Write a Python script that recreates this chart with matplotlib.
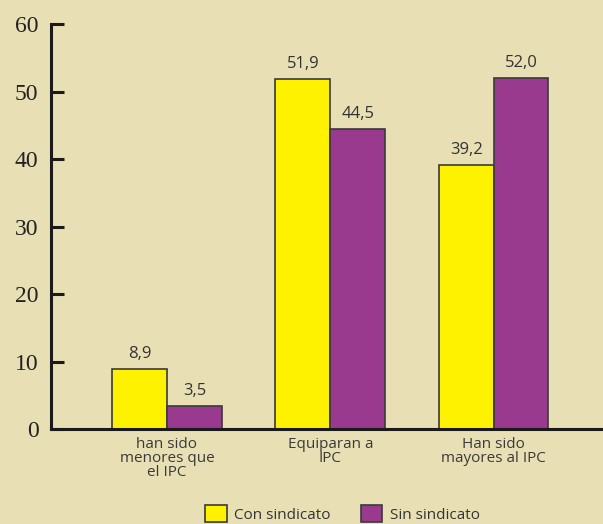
import numpy as np
import matplotlib.pyplot as plt

categories = ["han sido\nmenores que\nel IPC", "Equiparan a\nIPC", "Han sido\nmayores al IPC"]
con_sindicato = [8.9, 51.9, 39.2]
sin_sindicato = [3.5, 44.5, 52.0]
series_names = ["Con sindicato", "Sin sindicato"]

bg = "#e9dfb4"
yellow = "#fff200"
purple = "#993a8f"
edge = "#3a3a3a"
sans = ["Open Sans", "DejaVu Sans"]

fig = plt.figure(figsize=(6.03, 5.24), dpi=100, facecolor=bg)
ax = fig.add_axes([0.0846, 0.181, 0.9154, 0.773])
ax.set_facecolor(bg)

x = np.arange(len(categories))
w = 0.336
b1 = ax.bar(x - w / 2, con_sindicato, w, color=yellow, edgecolor=edge, linewidth=1.2, label=series_names[0])
b2 = ax.bar(x + w / 2, sin_sindicato, w, color=purple, edgecolor=edge, linewidth=1.2, label=series_names[1])

for bars, vals in ((b1, con_sindicato), (b2, sin_sindicato)):
    for rect, v in zip(bars, vals):
        ax.annotate(f"{v:.1f}".replace(".", ","),
                    (rect.get_x() + rect.get_width() / 2, v),
                    xytext=(0, 5), textcoords="offset points",
                    ha="center", va="bottom", fontsize=12, color="#333333", family=sans)

ax.set_xlim(-0.71, 2.67)
ax.set_ylim(0, 60)
ax.set_yticks(range(0, 61, 10))
ax.set_yticklabels([str(v) for v in range(0, 61, 10)], family="Liberation Serif", fontsize=17, color="#222222")
ax.tick_params(axis="y", direction="in", length=9, width=2.2, pad=9, color="#1a1a1a")
ax.set_xticks(x)
ax.set_xticklabels(categories, family=sans, fontsize=11, color="#3a3a3a", linespacing=0.9)
ax.tick_params(axis="x", length=0, pad=6)

for s in ("top", "right"):
    ax.spines[s].set_visible(False)
ax.spines["left"].set_linewidth(2.2)
ax.spines["bottom"].set_linewidth(2.2)
ax.spines["left"].set_color("#1a1a1a")
ax.spines["bottom"].set_color("#1a1a1a")

leg = fig.legend(loc="lower center", bbox_to_anchor=(0.568, -0.024), ncol=2, frameon=False,
                 prop={"family": sans, "size": 11}, handlelength=1.4, handleheight=1.3,
                 columnspacing=1.95, handletextpad=0.5)
for t in leg.get_texts():
    t.set_color("#333333")

fig.savefig("out.png", dpi=100, facecolor=bg)
